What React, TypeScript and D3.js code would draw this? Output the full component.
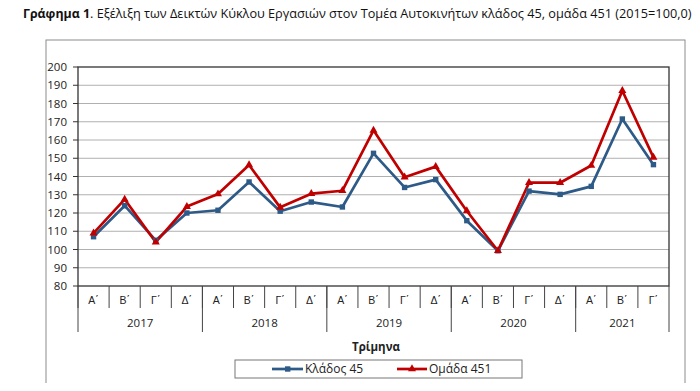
import React, { useEffect, useRef } from "react";
import * as d3 from "d3";

const quarters = ["Α΄","Β΄","Γ΄","Δ΄","Α΄","Β΄","Γ΄","Δ΄","Α΄","Β΄","Γ΄","Δ΄","Α΄","Β΄","Γ΄","Δ΄","Α΄","Β΄","Γ΄"];
const years = ["2017","2018","2019","2020","2021"];
const yearCounts = [4,4,4,4,3];
const klados45 = [107,124,105,120,121.5,137,121,126,123.3,152.7,134,138.3,115.8,99.3,132,130.2,134.6,171.5,146.5];
const omada451 = [109,127.5,104,123.5,130.4,146.3,123.1,130.6,132.2,165.3,139.6,145.4,121.1,99.3,136.6,136.6,146,187,150.5];
const yTicks = [80,90,100,110,120,130,140,150,160,170,180,190,200];
const titleBold = "Γράφημα 1";
const titleRest = ". Εξέλιξη των Δεικτών Κύκλου Εργασιών στον Τομέα Αυτοκινήτων κλάδος 45, ομάδα 451 (2015=100,0)";

const W = 700, H = 391;
const M = { left: 78, right: 669, top: 67, bottom: 286 };
const FONT = "'Open Sans', 'Noto Sans', sans-serif";
const QFONT = "'Liberation Sans', 'DejaVu Sans', sans-serif";
const BLUE = "#2E5A88";
const RED = "#C00000";

function FitText(props: { x: number; y: number; width: number; children: string; [k: string]: any }) {
  const { x, y, width, children, ...rest } = props;
  const ref = useRef<SVGTextElement>(null);
  useEffect(() => {
    const el = ref.current;
    if (!el) return;
    const w = el.getComputedTextLength();
    const s = w > 0 ? width / w : 1;
    el.setAttribute("transform", `translate(${x},${y}) scale(${s},1)`);
  }, [x, y, width, children]);
  return (
    <text ref={ref} x={0} y={0} transform={`translate(${x},${y})`} {...rest}>{children}</text>
  );
}

export default function App() {
  const idx = quarters.map((_, i) => i);
  const x = d3.scaleBand<number>().domain(idx).range([M.left, M.right]);
  const y = d3.scaleLinear().domain([80, 200]).range([M.bottom, M.top]);
  const cx = (i: number) => (x(i) as number) + x.bandwidth() / 2;
  const line = d3.line<number>().x((_, i) => cx(i)).y((d) => y(d));
  const tri = d3.symbol().type(d3.symbolTriangle).size(28)();

  let acc = 0;
  const yearBounds = yearCounts.map((c) => {
    const s = acc; acc += c; return [s, acc];
  });

  return (
    <div style={{ margin: -8 }}>
      <svg width={W} height={H} style={{ display: "block", background: "#fff" }} fontFamily={FONT}>
        <FitText x={23} y={18} width={67} fontSize={13} fontWeight="bold" fill="#111">{titleBold}</FitText>
        <FitText x={90} y={18} width={602} fontSize={13} fill="#111">{titleRest}</FitText>
        <rect x={46} y={40} width={639} height={348} fill="none" stroke="#8c8c8c" strokeWidth={1} />
        {yTicks.map((t) => (
          <g key={t}>
            {t !== 80 && t !== 200 && (
              <line x1={M.left} x2={M.right} y1={y(t)} y2={y(t)} stroke="#b0b0b0" strokeWidth={1} />
            )}
            <line x1={M.left - 5} x2={M.left} y1={y(t)} y2={y(t)} stroke="#333" />
            <text x={67} y={y(t)} dy="0.35em" textAnchor="end" fontSize={11.5} fill="#222">{t}</text>
          </g>
        ))}
        <rect x={M.left} y={M.top} width={M.right - M.left} height={M.bottom - M.top} fill="none" stroke="#333" strokeWidth={1.3} />
        {idx.map((i) => (
          <g key={i}>
            <line x1={x(i) as number} x2={x(i) as number} y1={M.bottom} y2={308} stroke="#444" />
            <text x={cx(i)} y={300} dy="0.35em" textAnchor="middle" fontSize={10.5} fontFamily={QFONT} fill="#222">{quarters[i]}</text>
          </g>
        ))}
        <line x1={M.right} x2={M.right} y1={M.bottom} y2={332} stroke="#444" />
        {yearBounds.map(([s, e], k) => {
          const x0 = x(s) as number;
          const x1 = e < quarters.length ? (x(e) as number) : M.right;
          return (
            <g key={k}>
              <line x1={x0} x2={x0} y1={M.bottom} y2={332} stroke="#444" />
              <text x={(x0 + x1) / 2} y={323} dy="0.35em" textAnchor="middle" fontSize={11.5} fill="#222">{years[k]}</text>
            </g>
          );
        })}
        <text x={376} y={347} dy="0.35em" textAnchor="middle" fontSize={11.5} fontWeight="bold" fill="#222">Τρίμηνα</text>
        <path d={line(klados45) as string} fill="none" stroke={BLUE} strokeWidth={2.7} strokeLinejoin="round" />
        <path d={line(omada451) as string} fill="none" stroke={RED} strokeWidth={2.7} strokeLinejoin="round" />
        {klados45.map((v, i) => (
          <rect key={"b" + i} x={cx(i) - 2.7} y={y(v) - 2.7} width={5.4} height={5.4} fill={BLUE} />
        ))}
        {omada451.map((v, i) => (
          <path key={"r" + i} d={tri as string} transform={`translate(${cx(i)},${y(v)})`} fill={RED} />
        ))}
        <rect x={235} y={360} width={287} height={18} fill="#fff" stroke="#777" />
        <line x1={272} x2={303} y1={369} y2={369} stroke={BLUE} strokeWidth={2.7} />
        <rect x={285} y={366.3} width={5.4} height={5.4} fill={BLUE} />
        <text x={305} y={369} dy="0.35em" fontSize={12} fill="#222">Κλάδος 45</text>
        <line x1={397} x2={427} y1={369} y2={369} stroke={RED} strokeWidth={2.7} />
        <path d={tri as string} transform="translate(412,369)" fill={RED} />
        <text x={429} y={369} dy="0.35em" fontSize={12} fill="#222">Ομάδα 451</text>
      </svg>
    </div>
  );
}
